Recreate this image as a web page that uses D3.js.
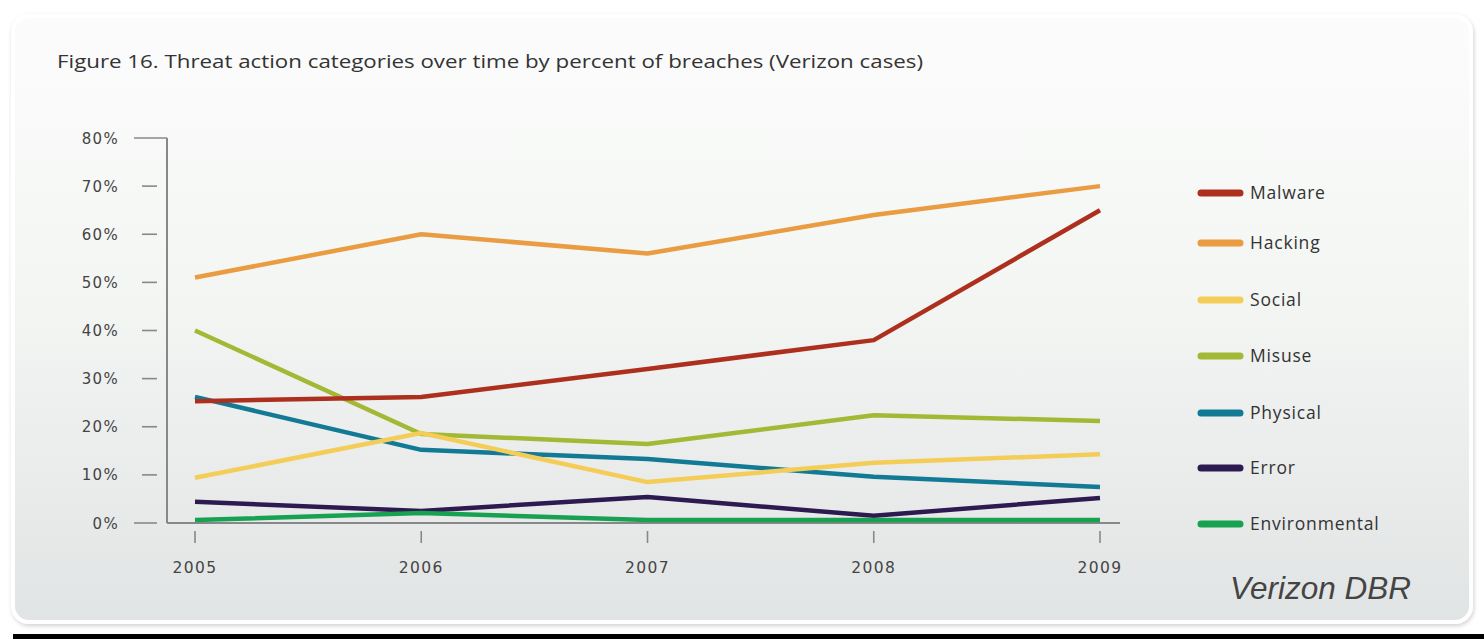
<!DOCTYPE html>
<html><head><meta charset="utf-8">
<script src="https://cdn.jsdelivr.net/npm/d3@7"></script>
<style>html,body{margin:0;padding:0;background:#fff;overflow:hidden}svg{display:block}</style>
</head><body>
<svg id="c" width="1484" height="639"></svg>
<script>
const years = ["2005","2006","2007","2008","2009"];
const seriesNames = ["Malware","Hacking","Social","Misuse","Physical","Error","Environmental"];
const malware = [25.3, 26.2, 32, 38, 65];
const hacking = [51, 60, 56, 64, 70];
const social = [9.4, 18.7, 8.5, 12.5, 14.3];
const misuse = [40, 18.5, 16.4, 22.4, 21.2];
const physical = [26.2, 15.2, 13.3, 9.6, 7.5];
const error = [4.4, 2.5, 5.4, 1.5, 5.2];
const environmental = [0.6, 2.1, 0.6, 0.6, 0.6];
const yTicks = [0,10,20,30,40,50,60,70,80];
const colors = ["#ad2f1d","#e99c42","#f4cd58","#a3b834","#127a95","#2c1a50","#17a151"];
const values = [malware,hacking,social,misuse,physical,error,environmental];
const drawOrder = [3,4,2,1,0,5,6];

const svg = d3.select("#c");
const defs = svg.append("defs");
const g1 = defs.append("linearGradient").attr("id","bg").attr("x1",0).attr("y1",0).attr("x2",0).attr("y2",1);
g1.append("stop").attr("offset","0%").attr("stop-color","#fbfcfb");
g1.append("stop").attr("offset","45%").attr("stop-color","#f4f6f4");
g1.append("stop").attr("offset","100%").attr("stop-color","#e1e4e4");
const sh = defs.append("filter").attr("id","sh").attr("x","-5%").attr("y","-5%").attr("width","110%").attr("height","110%");
sh.append("feDropShadow").attr("dx",1).attr("dy",2).attr("stdDeviation",2).attr("flood-color","#000").attr("flood-opacity",0.18);

svg.append("rect").attr("x",0).attr("y",0).attr("width",1484).attr("height",639).attr("fill","#fff");
svg.append("rect").attr("x",13).attr("y",16).attr("width",1458).attr("height",606).attr("rx",16)
  .attr("fill","url(#bg)").attr("stroke","#fff").attr("stroke-width",4).attr("filter","url(#sh)");
svg.append("rect").attr("x",13).attr("y",634).attr("width",1471).attr("height",5).attr("fill","#000");

svg.append("text").attr("x",57).attr("y",68).attr("font-family","Open Sans, sans-serif")
  .attr("font-size",18).attr("fill","#333").attr("textLength",866).attr("lengthAdjust","spacingAndGlyphs")
  .text("Figure 16. Threat action categories over time by percent of breaches (Verizon cases)");

const x = d3.scalePoint().domain(years).range([195,1100]);
const y = d3.scaleLinear().domain([0,80]).range([523,138]);
const axisColor = "#888";
const tickFont = "DejaVu Sans, sans-serif";
const font = "Open Sans, DejaVu Sans, sans-serif";

svg.append("line").attr("x1",167).attr("x2",167).attr("y1",138).attr("y2",523).attr("stroke",axisColor).attr("stroke-width",2);
svg.append("line").attr("x1",167).attr("x2",1120).attr("y1",523).attr("y2",523).attr("stroke",axisColor).attr("stroke-width",2);
const yg = svg.append("g");
yTicks.forEach(t => {
  const full = (t===0 || t===80);
  yg.append("line").attr("x1", full?134:142).attr("x2", full?(t===80?167:157):157)
    .attr("y1", y(t)).attr("y2", y(t)).attr("stroke", axisColor).attr("stroke-width", 1.6);
  yg.append("text").attr("x",119).attr("y",y(t)+5.5).attr("text-anchor","end")
    .attr("font-family",tickFont).attr("font-size",15).attr("letter-spacing",1.3).attr("fill","#444").text(t+"%");
});
const xg = svg.append("g");
years.forEach(yr => {
  xg.append("line").attr("x1",x(yr)).attr("x2",x(yr)).attr("y1",531).attr("y2",543).attr("stroke",axisColor).attr("stroke-width",1.6);
  xg.append("text").attr("x",x(yr)).attr("y",573).attr("text-anchor","middle")
    .attr("font-family",tickFont).attr("font-size",15.5).attr("letter-spacing",1.4).attr("fill","#444").text(yr);
});

const line = d3.line().x((d,i)=>x(years[i])).y(d=>y(d));
drawOrder.forEach(k => {
  svg.append("path").datum(values[k]).attr("d",line).attr("fill","none")
    .attr("stroke",colors[k]).attr("stroke-width",4.5).attr("stroke-linejoin","round");
});

const legY = [193,243,300,356,413,468,524];
seriesNames.forEach((n,i) => {
  svg.append("line").attr("x1",1201).attr("x2",1240).attr("y1",legY[i]).attr("y2",legY[i])
    .attr("stroke",colors[i]).attr("stroke-width",7).attr("stroke-linecap","round");
  svg.append("text").attr("x",1250).attr("y",legY[i]+6).attr("font-family",font)
    .attr("font-size",17.5).attr("letter-spacing",0.8).attr("fill","#333").text(n);
});

svg.append("text").attr("x",1411).attr("y",599).attr("text-anchor","end")
  .attr("font-family","Liberation Sans, Arial, sans-serif").attr("font-style","italic")
  .attr("font-size",31.5).attr("fill","#444").text("Verizon DBR");
</script>
</body></html>
